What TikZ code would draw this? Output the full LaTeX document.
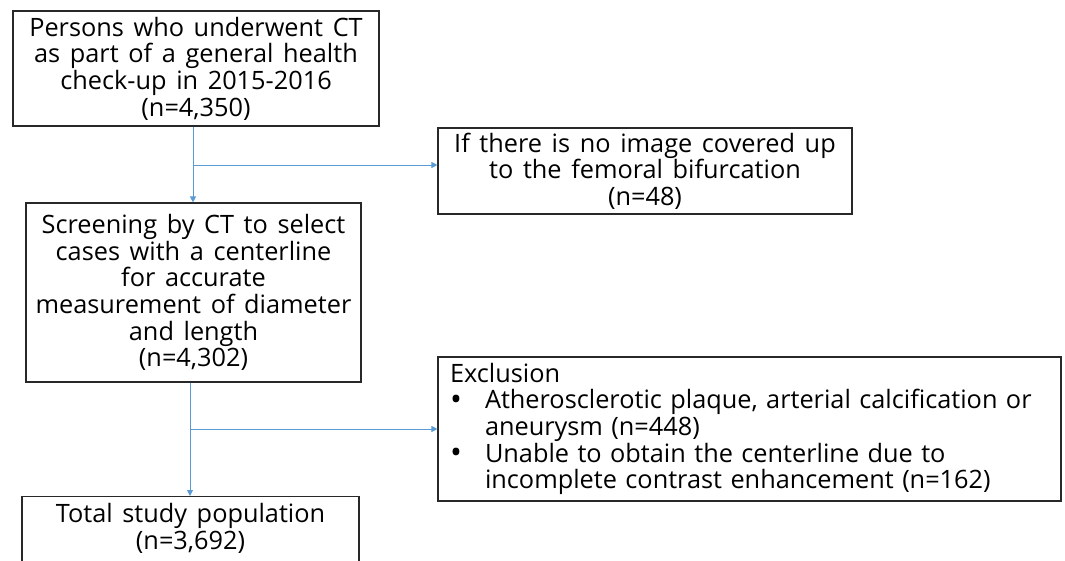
\documentclass[tikz,border=0pt]{standalone}
\usepackage{fontspec}
\setmainfont{Open Sans}
\usetikzlibrary{arrows.meta}
\definecolor{flowblue}{RGB}{91,155,213}
\definecolor{boxline}{RGB}{40,40,40}
% text face of all boxes: fairly large, with wide word gaps
\newcommand{\boxfont}{\fontsize{25.3}{26.6}\selectfont\spaceskip=0.38em plus 0.05em minus 0.05em\relax}
% list bullet, a little heavier than the font's own
\newcommand{\listdot}{\makebox[35pt][l]{\raisebox{-1.5pt}[0pt][0pt]{\scalebox{1.25}{•}}}}
\tikzset{
  box/.style={draw=boxline, line width=1.1pt, inner sep=0pt, align=center,
    font=\boxfont},
  boxtext/.style={inner sep=0pt, align=center, font=\boxfont},
  flow/.style={draw=flowblue, line width=0.9pt,
    -{Triangle[length=6pt,width=6pt]}}
}
\begin{document}
\begin{tikzpicture}[x=1pt,y=-1pt]
  \useasboundingbox (0,0) rectangle (1065,561);
  \clip (0,0) rectangle (1065,561);

  % main column
  \node[box, minimum width=366pt, minimum height=115pt] (start) at (196,68.5)
    {Persons who underwent CT\\as part of a general health\\check-up in 2015-2016\\(n=4,350)};
  \node[box, minimum width=335pt, minimum height=179pt] (screen) at (193.5,292.5)
    {Screening by CT to select\\cases with a centerline\\for accurate\\measurement of diameter\\and length\\(n=4,302)};
  \node[box, anchor=north, minimum width=337pt, minimum height=90pt] (total) at (190.5,496) {};
  \node[boxtext, anchor=north] (totaltext) at ([yshift=-7pt]total.north)
    {Total study population\\(n=3,692)};

  % exclusion boxes
  \node[box, minimum width=414pt, minimum height=86pt] (nofemoral) at (645,171)
    {If there is no image covered up\\to the femoral bifurcation\\(n=48)};
  \node[box, minimum width=623pt, minimum height=144pt, align=left,
    inner xsep=12pt, text width=599pt] (exclusion) at (749.5,429)
    {Exclusion\\
     \listdot Atherosclerotic plaque, arterial calcification or\\
     \hspace*{35pt}aneurysm (n=448)\\
     \listdot Unable to obtain the centerline due to\\
     \hspace*{35pt}incomplete contrast enhancement (n=162)};

  % connectors
  \coordinate (split1) at (193,165);
  \coordinate (split2) at (190,429);
  \draw[flow] (start.south -| split1) -- (screen.north -| split1);
  \draw[flow] (split1) -- (split1 -| nofemoral.west);
  \draw[flow] (screen.south -| split2) -- (total.north -| split2);
  \draw[flow] (split2) -- (split2 -| exclusion.west);
\end{tikzpicture}
\end{document}
